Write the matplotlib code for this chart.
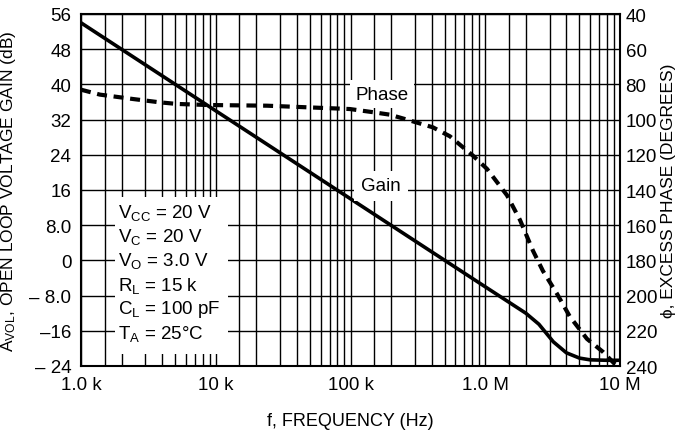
"""Open loop voltage gain and excess phase versus frequency."""

import matplotlib
matplotlib.use("Agg")
import matplotlib.pyplot as plt
from matplotlib.ticker import FixedLocator, LogLocator, NullFormatter

# gain (dB)
gain_freq = [1e3, 1e4, 1e5, 1e6, 2.0e6, 2.5e6, 3.2e6, 4.0e6, 5.0e6, 6.0e6, 8.0e6, 1e7]
gain_db = [54, 34, 14, -6, -12, -14.5, -18.5, -21.0, -22.2, -22.6, -22.7, -22.7]

# excess phase (degrees)
phase_freq = [1.0e3, 1.38e3, 2.43e3, 3.85e3, 5.15e3, 8.6e3, 2.4e4, 7.4e4, 9.9e4,
              1.47e5, 1.96e5, 2.62e5, 4.09e5, 5.47e5, 8.11e5, 1.03e6, 1.45e6,
              1.81e6, 2.26e6, 2.68e6, 3.41e6, 4.25e6, 5.69e6, 7.48e6, 9.18e6]
phase_deg = [83, 85.8, 88.3, 90.2, 91.1, 91.7, 92.1, 93.6, 94,
             95.8, 97.2, 100, 104.4, 109.5, 120.5, 128, 143,
             157, 174.5, 186, 199, 212, 224.6, 232, 239]

gain_ticks = [-24, -16, -8, 0, 8, 16, 24, 32, 40, 48, 56]
gain_labels = ["\u2013 24", "\u201316", "\u2013 8.0", "0", "8.0", "16", "24", "32", "40", "48", "56"]
phase_ticks = [40, 60, 80, 100, 120, 140, 160, 180, 200, 220, 240]
freq_ticks = [1e3, 1e4, 1e5, 1e6, 1e7]
freq_labels = ["1.0 k", "10 k", "100 k", "1.0 M", "10 M"]
conditions = ["$\\mathregular{V_{CC}}$ = 20 V", "$\\mathregular{V_C}$ = 20 V",
              "$\\mathregular{V_O}$ = 3.0 V", "$\\mathregular{R_L}$ = 15 k",
              "$\\mathregular{C_L}$ = 100 pF", "$\\mathregular{T_A}$ = 25\u00b0C"]

plt.rcParams["font.family"] = ["Liberation Sans", "DejaVu Sans"]
plt.rcParams["mathtext.fontset"] = "custom"
plt.rcParams["mathtext.rm"] = "Liberation Sans"

TICK_FS = 13.5
LABEL_FS = 12.5

fig = plt.figure(figsize=(6.81, 4.35), dpi=100)
ax = fig.add_axes([81 / 681, 1 - 367 / 435, 539 / 681, 352 / 435])
ax.set_xscale("log")
ax.set_xlim(1e3, 1e7)
ax.set_ylim(-24, 56)

ax.xaxis.set_major_locator(FixedLocator(freq_ticks))
ax.set_xticklabels(freq_labels)
ax.xaxis.set_minor_locator(LogLocator(base=10, subs=[1.5, 2, 3, 4, 5, 6, 7, 8, 9], numticks=20))
ax.xaxis.set_minor_formatter(NullFormatter())
ax.set_yticks(gain_ticks)
ax.set_yticklabels(gain_labels)
ax.grid(True, which="both", color="black", linewidth=1.0)
ax.tick_params(which="both", length=0, labelsize=TICK_FS, pad=7)
for s in ax.spines.values():
    s.set_linewidth(1.5)

ax.plot(gain_freq, gain_db, color="black", linewidth=2.6, zorder=4)

ax2 = ax.twinx()
ax2.set_ylim(240, 40)
ax2.set_yticks(phase_ticks)
ax2.tick_params(length=0, labelsize=TICK_FS, pad=4)
ax2.plot(phase_freq, phase_deg, color="black", linewidth=3.0, linestyle=(0, (2.4, 1.6)), zorder=4)
for s in ax2.spines.values():
    s.set_visible(False)

ax.set_xlabel("f, FREQUENCY (Hz)", fontsize=LABEL_FS + 0.5, labelpad=14)
ax.set_ylabel("$\\mathregular{A_{VOL}}$, OPEN LOOP VOLTAGE GAIN (dB)", fontsize=LABEL_FS, labelpad=8)
ax2.set_ylabel("\u03d5, EXCESS PHASE (DEGREES)", fontsize=LABEL_FS, labelpad=3)

# white box that hides the grid behind the test conditions
ax.add_patch(plt.Rectangle(((115 - 81) / 539, (367 - 355) / 352), 113 / 539, 157 / 352,
                           transform=ax.transAxes, facecolor="white", edgecolor="none", zorder=3))
for i, line in enumerate(conditions):
    ax.text((118 - 81) / 539, (367 - 213 - i * 24.2) / 352, line, transform=ax.transAxes,
            fontsize=TICK_FS, va="center", ha="left", zorder=5)

ax.text((382 - 81) / 539, (367 - 95) / 352, "Phase", transform=ax.transAxes, fontsize=TICK_FS,
        ha="center", va="center", zorder=5,
        bbox=dict(facecolor="white", edgecolor="none", pad=4))
ax.text((381 - 81) / 539, (367 - 187) / 352, "Gain", transform=ax.transAxes, fontsize=TICK_FS,
        ha="center", va="center", zorder=5,
        bbox=dict(facecolor="white", edgecolor="none", pad=5))

fig.savefig("out.png", dpi=100)
